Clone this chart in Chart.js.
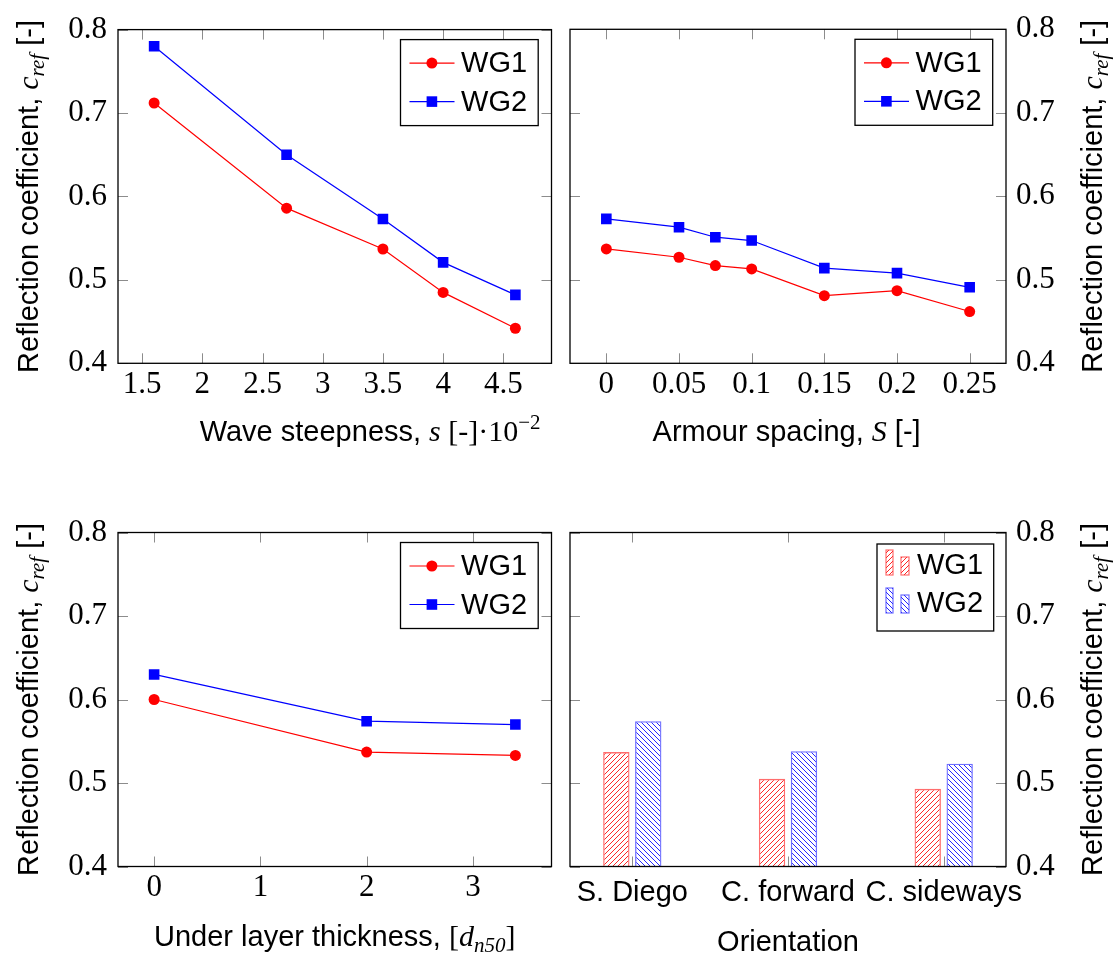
<!DOCTYPE html>
<html lang="en">
<head>
<meta charset="UTF-8">
<title>Reflection coefficient</title>
<script src="https://cdn.jsdelivr.net/npm/chart.js@4"></script>
<style>
  body { margin: 0; background: #fff; }
  #wrap { position: relative; width: 1118px; height: 956px; }
  canvas { position: absolute; }
</style>
</head>
<body>
<div id="wrap">
  <canvas id="steep" width="559" height="480" style="left:0;top:0"></canvas>
  <canvas id="spacing" width="559" height="480" style="left:559px;top:0"></canvas>
  <canvas id="under" width="559" height="476" style="left:0;top:480px"></canvas>
  <canvas id="orient" width="559" height="476" style="left:559px;top:480px"></canvas>
</div>
<script>
// wave steepness (x 10^-2)
const steepness = [1.6, 2.7, 3.5, 4.0, 4.6];
const steepWG1 = [0.712, 0.586, 0.537, 0.485, 0.442];
const steepWG2 = [0.780, 0.650, 0.573, 0.521, 0.482];
const steepTicks = [1.5, 2, 2.5, 3, 3.5, 4, 4.5];

// armour spacing
const spacing = [0, 0.05, 0.075, 0.1, 0.15, 0.2, 0.25];
const spacingWG1 = [0.537, 0.527, 0.517, 0.513, 0.481, 0.487, 0.462];
const spacingWG2 = [0.573, 0.563, 0.551, 0.547, 0.514, 0.508, 0.491];
const spacingTicks = [0, 0.05, 0.1, 0.15, 0.2, 0.25];

// under layer thickness
const underlayer = [0, 2, 3.4];
const underWG1 = [0.600, 0.537, 0.533];
const underWG2 = [0.630, 0.574, 0.570];
const underTicks = [0, 1, 2, 3];

// unit orientation
const orientations = ['S. Diego', 'C. forward', 'C. sideways'];
const orientWG1 = [0.537, 0.505, 0.493];
const orientWG2 = [0.574, 0.538, 0.523];

const crefTicks = [0.4, 0.5, 0.6, 0.7, 0.8];

const SANS = '"Liberation Sans", Arial, sans-serif';
const SERIF = '"Liberation Serif", "Times New Roman", serif';
const RED = '#ff0000';
const BLUE = '#0000ff';
const TICK = 10;

Chart.defaults.color = '#000';
Chart.defaults.font.family = SERIF;

function hatch(color, rising) {
  const c = document.createElement('canvas');
  const n = 5;
  c.width = c.height = n;
  const g = c.getContext('2d');
  g.strokeStyle = color;
  g.lineWidth = 1;
  g.beginPath();
  if (rising) {
    g.moveTo(-1, n + 1); g.lineTo(n + 1, -1);
    g.moveTo(-1, 1); g.lineTo(1, -1);
    g.moveTo(n - 1, n + 1); g.lineTo(n + 1, n - 1);
  } else {
    g.moveTo(-1, -1); g.lineTo(n + 1, n + 1);
    g.moveTo(-1, n - 1); g.lineTo(1, n + 1);
    g.moveTo(n - 1, -1); g.lineTo(n + 1, 1);
  }
  g.stroke();
  return g.createPattern(c, 'repeat');
}

// text made of pieces in different fonts (sub/superscripts), centred on cx,cy
function drawRich(ctx, parts, cx, cy, vertical) {
  ctx.save();
  ctx.translate(cx, cy);
  if (vertical) ctx.rotate(-Math.PI / 2);
  let total = 0;
  for (const p of parts) {
    ctx.font = p.font;
    p.w = ctx.measureText(p.text).width;
    total += p.w;
  }
  let x = -total / 2;
  ctx.fillStyle = '#000';
  ctx.textBaseline = 'alphabetic';
  ctx.textAlign = 'left';
  for (const p of parts) {
    ctx.font = p.font;
    ctx.fillText(p.text, x, 10.5 + (p.dy || 0));
    x += p.w;
  }
  ctx.restore();
}

const F_SANS = '29px ' + SANS;
const F_SERIF = '30px ' + SERIF;
const F_MATH = 'italic 30px ' + SERIF;
const F_SUB = 'italic 21px ' + SERIF;
const F_SUP = '21px ' + SERIF;

const crefTitle = [
  { text: 'Reflection coefficient, ', font: F_SANS },
  { text: 'c', font: F_MATH },
  { text: 'ref', font: F_SUB, dy: 6 },
  { text: ' [-]', font: F_SANS }
];

// frame with inward tick marks on all four sides
const framePlugin = {
  id: 'frame',
  beforeDatasetsDraw(chart) {
    const { ctx, chartArea: a, scales } = chart;
    ctx.save();
    ctx.strokeStyle = '#8c8c8c';
    ctx.lineWidth = 1;
    ctx.beginPath();
    for (const t of scales.x.ticks) {
      const px = Math.round(scales.x.getPixelForValue(t.value)) + 0.5;
      ctx.moveTo(px, a.top); ctx.lineTo(px, a.top + TICK);
      ctx.moveTo(px, a.bottom); ctx.lineTo(px, a.bottom - TICK);
    }
    for (const t of scales.y.ticks) {
      const py = Math.round(scales.y.getPixelForValue(t.value)) + 0.5;
      ctx.moveTo(a.left, py); ctx.lineTo(a.left + TICK, py);
      ctx.moveTo(a.right, py); ctx.lineTo(a.right - TICK, py);
    }
    ctx.stroke();
    ctx.restore();
  },
  afterDatasetsDraw(chart) {
    const { ctx, chartArea: a } = chart;
    ctx.save();
    ctx.strokeStyle = '#000';
    ctx.lineWidth = 1.3;
    ctx.strokeRect(a.left, a.top, a.right - a.left, a.bottom - a.top);
    ctx.restore();
  }
};

const titlePlugin = {
  id: 'titles',
  afterDraw(chart, args, opts) {
    const { ctx, chartArea: a } = chart;
    const cx = (a.left + a.right) / 2;
    drawRich(ctx, opts.x, cx + (opts.xdx || 0), a.bottom + opts.xdy, false);
    const yx = opts.right ? a.right + 85.5 : a.left - 91;
    drawRich(ctx, crefTitle, yx, (a.top + a.bottom) / 2, true);
  }
};

const legendPlugin = {
  id: 'boxLegend',
  afterDraw(chart, args, o) {
    const { ctx, chartArea: a } = chart;
    const left = a.right - o.inset - o.width;
    const top = a.top + o.top;
    ctx.save();
    ctx.fillStyle = '#fff';
    ctx.fillRect(left, top, o.width, o.height);
    ctx.strokeStyle = '#000';
    ctx.lineWidth = 1.3;
    ctx.strokeRect(left, top, o.width, o.height);
    chart.data.datasets.forEach((ds, i) => {
      const y = top + o.rows[i];
      if (o.bars) {
        ctx.fillStyle = ds.backgroundColor;
        ctx.strokeStyle = ds.borderColor;
        ctx.lineWidth = 1.2;
        ctx.fillRect(left + 9, y - 15, 7, 25);
        ctx.strokeRect(left + 9, y - 15, 7, 25);
        ctx.fillRect(left + 24, y - 8, 8, 18);
        ctx.strokeRect(left + 24, y - 8, 8, 18);
      } else {
        ctx.strokeStyle = ds.borderColor;
        ctx.lineWidth = 1.2;
        ctx.beginPath();
        ctx.moveTo(left + 9, y);
        ctx.lineTo(left + 54, y);
        ctx.stroke();
        ctx.fillStyle = ds.pointBackgroundColor;
        ctx.beginPath();
        if (ds.pointStyle === 'rect') {
          ctx.rect(left + 31.4 - 5.3, y - 5.3, 10.6, 10.6);
        } else {
          ctx.arc(left + 31.4, y, 5.5, 0, Math.PI * 2);
        }
        ctx.fill();
      }
      ctx.fillStyle = '#000';
      ctx.font = F_SANS;
      ctx.textBaseline = 'middle';
      ctx.textAlign = 'left';
      ctx.fillText(ds.label, left + o.textX, y + 1);
    });
    ctx.restore();
  }
};

const lineLegend = { inset: 13.3, width: 137.7, height: 86, top: 10, rows: [23.5, 62], textX: 60.6 };

function series(xs, ys, label, color, style) {
  return {
    label,
    data: xs.map((x, i) => ({ x, y: ys[i] })),
    borderColor: color,
    backgroundColor: color,
    pointBackgroundColor: color,
    pointBorderColor: color,
    pointBorderWidth: 0,
    pointStyle: style,
    pointRadius: style === 'rect' ? 7.5 : 5.5,
    borderWidth: 1.2,
    tension: 0
  };
}

function yAxis(right, width) {
  return {
    type: 'linear',
    position: right ? 'right' : 'left',
    min: 0.4,
    max: 0.8,
    grid: { display: false, drawTicks: false },
    border: { display: false },
    afterBuildTicks: s => { s.ticks = crefTicks.map(v => ({ value: v })); },
    afterFit: s => { s.width = width; },
    ticks: {
      padding: right ? 10 : 11,
      font: { family: SERIF, size: 31 },
      callback: v => v.toFixed(1)
    }
  };
}

function xAxis(min, max, tickVals, height, fmt, font, pad) {
  return {
    type: 'linear',
    min,
    max,
    offset: false,
    grid: { display: false, drawTicks: false },
    border: { display: false },
    afterBuildTicks: s => { s.ticks = tickVals.map(v => ({ value: v })); },
    afterFit: s => { s.height = height; },
    ticks: {
      padding: pad,
      maxRotation: 0,
      autoSkip: false,
      font,
      callback: fmt
    }
  };
}

const numFmt = v => String(Number(v.toFixed(3)));
const serifTicks = { family: SERIF, size: 31 };

function baseOptions(padding, scales, plugins) {
  return {
    responsive: false,
    animation: false,
    events: [],
    layout: { padding },
    scales,
    plugins: Object.assign({ legend: { display: false }, tooltip: { enabled: false } }, plugins)
  };
}

const plugins = [framePlugin, titlePlugin, legendPlugin];

new Chart(document.getElementById('steep'), {
  type: 'line',
  data: { datasets: [
    series(steepness, steepWG1, 'WG1', RED, 'circle'),
    series(steepness, steepWG2, 'WG2', BLUE, 'rect')
  ] },
  options: baseOptions({ top: 29.3, right: 5, left: 0, bottom: 0 }, {
    x: xAxis(1.3, 4.9, steepTicks, 116.7, numFmt, serifTicks, 3),
    y: yAxis(false, 118)
  }, {
    titles: { xdx: 35.4, xdy: 67.4, x: [
      { text: 'Wave steepness, ', font: F_SANS },
      { text: 's', font: F_MATH },
      { text: ' [-]\u00b710', font: F_SERIF },
      { text: '\u22122', font: F_SUP, dy: -12 }
    ] },
    boxLegend: lineLegend
  }),
  plugins
});

new Chart(document.getElementById('spacing'), {
  type: 'line',
  data: { datasets: [
    series(spacing, spacingWG1, 'WG1', RED, 'circle'),
    series(spacing, spacingWG2, 'WG2', BLUE, 'rect')
  ] },
  options: baseOptions({ top: 29.3, right: 0, left: 11, bottom: 0 }, {
    x: xAxis(-0.025, 0.275, spacingTicks, 116.7, numFmt, serifTicks, 3),
    y: yAxis(true, 112)
  }, {
    titles: { right: true, xdx: -1.4, xdy: 67.4, x: [
      { text: 'Armour spacing, ', font: F_SANS },
      { text: 'S', font: F_MATH },
      { text: ' [-]', font: F_SANS }
    ] },
    boxLegend: lineLegend
  }),
  plugins
});

new Chart(document.getElementById('under'), {
  type: 'line',
  data: { datasets: [
    series(underlayer, underWG1, 'WG1', RED, 'circle'),
    series(underlayer, underWG2, 'WG2', BLUE, 'rect')
  ] },
  options: baseOptions({ top: 52.5, right: 5, left: 0, bottom: 0 }, {
    x: xAxis(-0.34, 3.74, underTicks, 89.5, numFmt, serifTicks, 3),
    y: yAxis(false, 118)
  }, {
    titles: { xdy: 68.5, x: [
      { text: 'Under layer thickness, ', font: F_SANS },
      { text: '[', font: F_SERIF },
      { text: 'd', font: F_MATH },
      { text: 'n50', font: F_SUB, dy: 6 },
      { text: ']', font: F_SERIF }
    ] },
    boxLegend: lineLegend
  }),
  plugins
});

function bars(ys, label, color, fadedColor, rising) {
  return {
    label,
    data: ys.map((y, i) => ({ x: i, y })),
    base: 0.4,
    backgroundColor: hatch(color, rising),
    borderColor: fadedColor,
    borderWidth: 1.3,
    categoryPercentage: 0.41,
    barPercentage: 0.825
  };
}

new Chart(document.getElementById('orient'), {
  type: 'bar',
  data: { datasets: [
    bars(orientWG1, 'WG1', 'rgba(255,0,0,0.85)', 'rgba(255,60,60,0.75)', true),
    bars(orientWG2, 'WG2', 'rgba(0,0,255,0.85)', 'rgba(60,60,255,0.75)', false)
  ] },
  options: baseOptions({ top: 52.5, right: 0, left: 11, bottom: 0 }, {
    x: xAxis(-0.4, 2.4, [0, 1, 2], 89.5, v => orientations[v], { family: SANS, size: 29 }, 9),
    y: yAxis(true, 112)
  }, {
    titles: { right: true, xdy: 73.5, x: [
      { text: 'Orientation', font: F_SANS }
    ] },
    boxLegend: { inset: 12.3, width: 116.7, height: 87, top: 11.5, rows: [21, 59], textX: 40, bars: true }
  }),
  plugins
});
</script>
</body>
</html>
